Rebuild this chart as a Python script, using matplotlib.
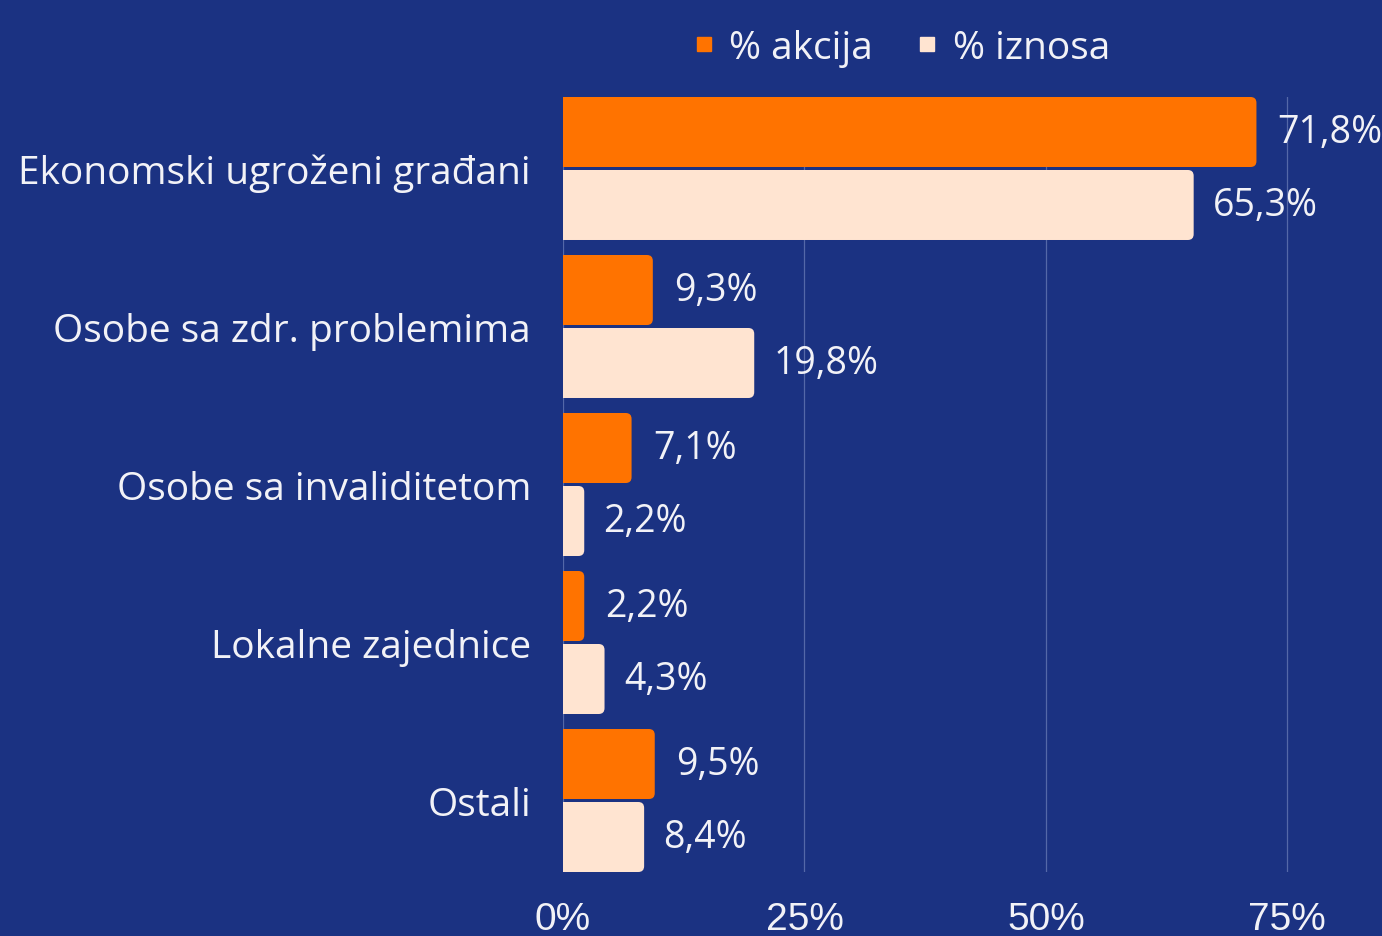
import matplotlib
matplotlib.use("Agg")
import matplotlib.pyplot as plt
from matplotlib.patches import FancyBboxPatch
from matplotlib.lines import Line2D
import numpy as np

categories = ["Ekonomski ugroženi građani", "Osobe sa zdr. problemima",
              "Osobe sa invaliditetom", "Lokalne zajednice", "Ostali"]
akcija = [71.8, 9.3, 7.1, 2.2, 9.5]
iznosa = [65.3, 19.8, 2.2, 4.3, 8.4]
value_labels_akcija = ["71,8%", "9,3%", "7,1%", "2,2%", "9,5%"]
value_labels_iznosa = ["65,3%", "19,8%", "2,2%", "4,3%", "8,4%"]
x_ticks = [0, 25, 50, 75]
x_ticklabels = ["0%", "25%", "50%", "75%"]

BG = "#1b3282"
ORANGE = "#ff7300"
PEACH = "#ffe4d1"
TEXT = "#f2f2f7"
GRID = "#5468a8"
FONT = ["Open Sans", "DejaVu Sans"]

fig = plt.figure(figsize=(13.82, 9.37), dpi=100, facecolor=BG)
ax = fig.add_axes([563 / 1382, 1 - 873 / 937, (1382 - 563) / 1382, (873 - 98) / 937])
ax.set_facecolor(BG)

y = np.arange(len(categories))
h = 0.443
off = 0.231

def rounded_bars(vals, ypos, color):
    bars = ax.barh(ypos, vals, height=h, color=color, alpha=0)
    for b in bars:
        x0, y0 = b.get_x(), b.get_y()
        w, hh = b.get_width(), b.get_height()
        p = FancyBboxPatch((x0 - 1.5, y0), w + 1.5, hh,
                           boxstyle="round,pad=0,rounding_size=0.6",
                           mutation_aspect=0.062, facecolor=color,
                           edgecolor="none", zorder=3)
        ax.add_patch(p)
    return bars

rounded_bars(akcija, y - off, ORANGE)
rounded_bars(iznosa, y + off, PEACH)

for yi, v, lab in zip(y, akcija, value_labels_akcija):
    ax.text(v + 2.2, yi - off, lab, va="center", ha="left", color=TEXT,
            fontsize=27, family=FONT)
for yi, v, lab in zip(y, iznosa, value_labels_iznosa):
    ax.text(v + 2.0, yi + off, lab, va="center", ha="left", color=TEXT,
            fontsize=27, family=FONT)

ax.set_xlim(0, 84.8)
ax.set_ylim(4.4525, -0.4525)
ax.set_xticks(x_ticks)
ax.set_xticklabels(x_ticklabels, color=TEXT, fontsize=28, family=["Liberation Sans", "DejaVu Sans"])
ax.set_yticks(y)
ax.set_yticklabels(categories, color=TEXT, fontsize=28, family=FONT)
ax.tick_params(axis="y", length=0, pad=23)
ax.tick_params(axis="x", length=0, pad=21)
ax.grid(axis="x", color=GRID, linewidth=0.9, zorder=0)
ax.set_axisbelow(True)
for s in ax.spines.values():
    s.set_visible(False)

handles = [Line2D([], [], marker="s", linestyle="none", markersize=10, color=ORANGE),
           Line2D([], [], marker="s", linestyle="none", markersize=10, color=PEACH)]
fig.legend(handles, ["% akcija", "% iznosa"], loc="center", bbox_to_anchor=(0.652, 0.948),
           ncol=2, frameon=False, handlelength=0.6, handletextpad=0.35, columnspacing=1.1,
           prop={"family": FONT, "size": 28}, labelcolor=TEXT)

fig.savefig("out.png", facecolor=BG)
